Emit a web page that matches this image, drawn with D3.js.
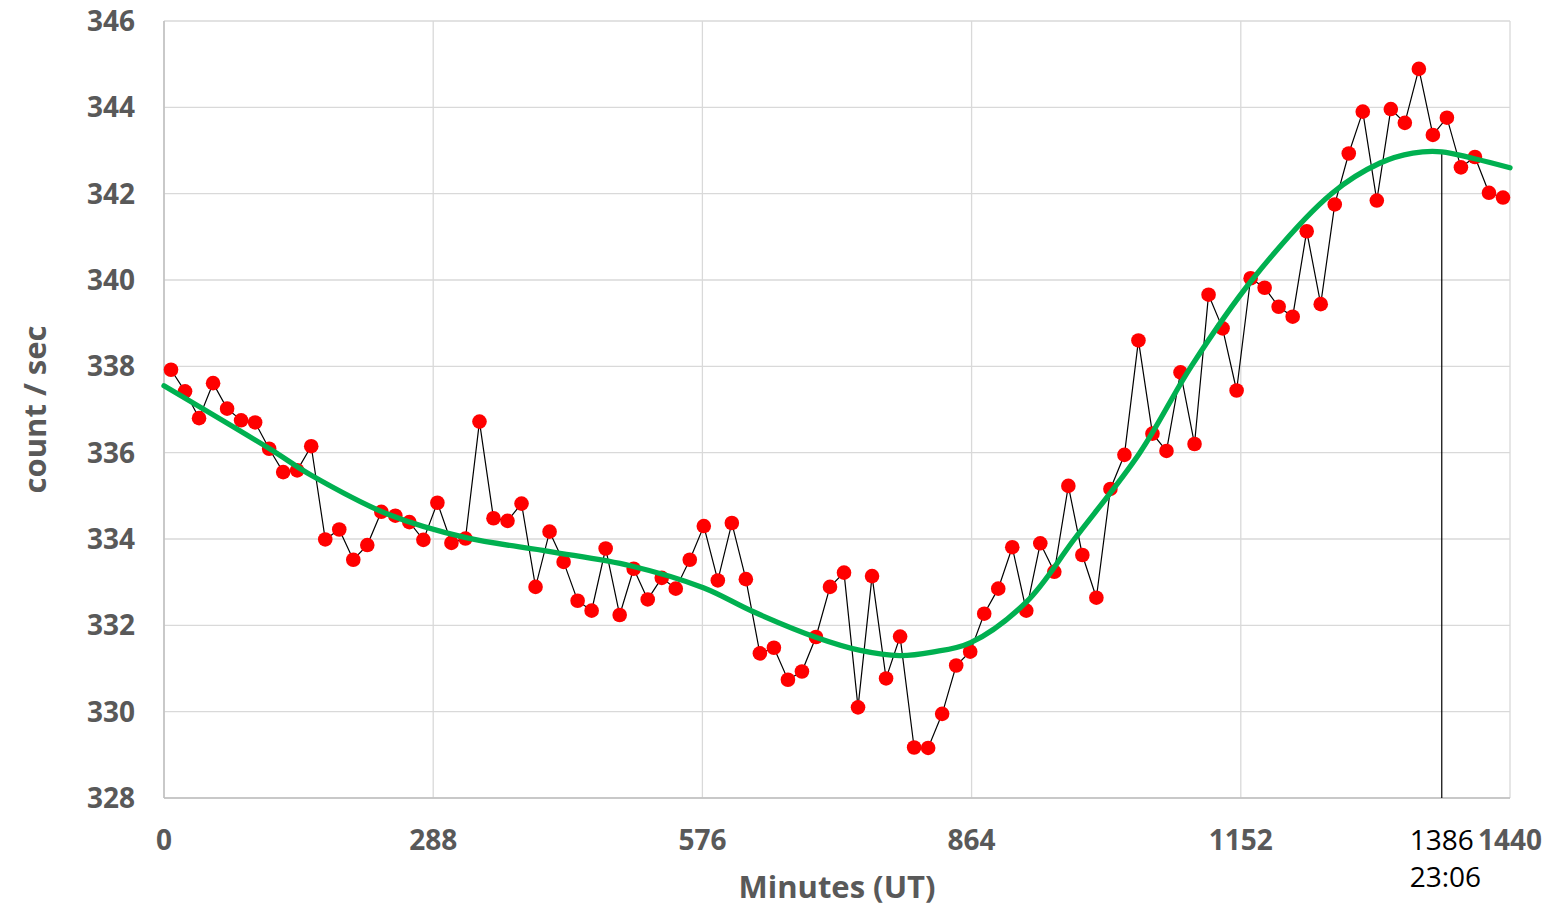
<!DOCTYPE html>
<html>
<head>
<meta charset="utf-8">
<script src="https://cdn.jsdelivr.net/npm/d3@7/dist/d3.min.js"></script>
<style>
  body { margin: 0; background: #fff; }
  text { font-family: "Open Sans", "Liberation Sans", Arial, sans-serif; }
</style>
</head>
<body>
<div id="chart"></div>
<script>
// count rate, one sample every 15 minutes (centred on 7.5, 22.5, ...)
const sampleMinutes = d3.range(96).map(i => 7.5 + i * 15);
const countRate = [
  337.92, 337.42, 336.80, 337.61, 337.02, 336.75, 336.70, 336.09, 335.55, 335.59,
  336.15, 333.99, 334.22, 333.52, 333.86, 334.63, 334.54, 334.39, 333.98, 334.84,
  333.91, 334.01, 336.72, 334.48, 334.42, 334.82, 332.89, 334.17, 333.47, 332.57,
  332.34, 333.78, 332.24, 333.31, 332.60, 333.10, 332.85, 333.52, 334.30, 333.04,
  334.37, 333.07, 331.35, 331.48, 330.74, 330.93, 331.73, 332.89, 333.22, 330.10,
  333.14, 330.77, 331.74, 329.17, 329.16, 329.95, 331.07, 331.39, 332.27, 332.85,
  333.81, 332.34, 333.90, 333.24, 335.23, 333.63, 332.64, 335.16, 335.95, 338.60,
  336.44, 336.04, 337.86, 336.20, 339.66, 338.88, 337.44, 340.04, 339.82, 339.38,
  339.15, 341.13, 339.44, 341.75, 342.93, 343.90, 341.84, 343.96, 343.64, 344.89,
  343.36, 343.76, 342.61, 342.85, 342.02, 341.91
];

// trend curve
const trendMinutes = [0, 113, 158, 241, 323, 413, 499, 577, 630, 698, 745, 787, 822, 863,
  923, 974, 1044, 1099, 1164, 1249, 1301, 1336, 1367, 1400, 1440];
const trendValues = [337.55, 336.09, 335.47, 334.56, 334.03, 333.71, 333.38, 332.87, 332.32,
  331.72, 331.42, 331.30, 331.38, 331.60, 332.55, 334.00, 336.00, 338.00, 340.00,
  342.00, 342.71, 342.94, 342.97, 342.82, 342.60];

const xTicks = [0, 288, 576, 864, 1152, 1440];
const yTicks = [328, 330, 332, 334, 336, 338, 340, 342, 344, 346];
const markerMinute = 1367;          // where the marker is drawn
const markerLabels = ['1386', '23:06'];

const margin = { top: 21, right: 36, bottom: 110, left: 164 };
const W = 1546, H = 908;
const width = W - margin.left - margin.right;
const height = H - margin.top - margin.bottom;

const svg = d3.select('#chart').append('svg')
  .attr('width', W)
  .attr('height', H);
const g = svg.append('g')
  .attr('transform', `translate(${margin.left},${margin.top})`);

const x = d3.scaleLinear().domain([0, 1440]).range([0, width]);
const y = d3.scaleLinear().domain([328, 346]).range([height, 0]);

// grid
g.append('g')
  .selectAll('line')
  .data(yTicks)
  .enter().append('line')
  .attr('x1', 0).attr('x2', width)
  .attr('y1', d => y(d)).attr('y2', d => y(d))
  .attr('stroke', '#d9d9d9').attr('stroke-width', 1.3);
g.append('g')
  .selectAll('line')
  .data(xTicks)
  .enter().append('line')
  .attr('y1', 0).attr('y2', height)
  .attr('x1', d => x(d)).attr('x2', d => x(d))
  .attr('stroke', '#d9d9d9').attr('stroke-width', 1.3);

// left and bottom axis lines
g.append('line').attr('x1', 0).attr('x2', 0).attr('y1', 0).attr('y2', height)
  .attr('stroke', '#bfbfbf').attr('stroke-width', 1.5);
g.append('line').attr('x1', 0).attr('x2', width).attr('y1', height).attr('y2', height)
  .attr('stroke', '#bfbfbf').attr('stroke-width', 1.5);

// tick labels
g.append('g')
  .selectAll('text')
  .data(yTicks)
  .enter().append('text')
  .attr('x', -29)
  .attr('y', d => y(d) + 10)
  .attr('text-anchor', 'end')
  .attr('font-size', 28)
  .attr('font-weight', 'bold')
  .attr('fill', '#595959')
  .text(d => d);

g.append('g')
  .selectAll('text')
  .data(xTicks)
  .enter().append('text')
  .attr('x', d => x(d))
  .attr('y', height + 52)
  .attr('text-anchor', 'middle')
  .attr('font-size', 28)
  .attr('font-weight', 'bold')
  .attr('fill', '#595959')
  .text(d => d);

// axis titles
svg.append('text')
  .attr('transform', `translate(46,${margin.top + height / 2}) rotate(-90)`)
  .attr('text-anchor', 'middle')
  .attr('font-size', 31)
  .attr('font-weight', 'bold')
  .attr('fill', '#595959')
  .text('count / sec');

svg.append('text')
  .attr('x', margin.left + width / 2)
  .attr('y', H - 10)
  .attr('text-anchor', 'middle')
  .attr('font-size', 31)
  .attr('font-weight', 'bold')
  .attr('fill', '#595959')
  .text('Minutes (UT)');

// marker line and its label
const markerValue = trendValues[trendMinutes.indexOf(markerMinute)];
g.append('line')
  .attr('x1', x(markerMinute)).attr('x2', x(markerMinute))
  .attr('y1', y(markerValue)).attr('y2', height)
  .attr('stroke', '#000').attr('stroke-width', 1.2);

const lab1 = g.append('text')
  .attr('x', x(markerMinute))
  .attr('y', height + 52)
  .attr('text-anchor', 'middle')
  .attr('font-size', 28)
  .attr('fill', '#000')
  .text(markerLabels[0]);
const left = lab1.node().getBBox().x;
g.append('text')
  .attr('x', left)
  .attr('y', height + 89)
  .attr('font-size', 28)
  .attr('fill', '#000')
  .text(markerLabels[1]);

// data
const pts = sampleMinutes.map((m, i) => ({ m: m, v: countRate[i] }));

g.append('path')
  .datum(pts)
  .attr('fill', 'none')
  .attr('stroke', '#000')
  .attr('stroke-width', 1.2)
  .attr('d', d3.line().x(d => x(d.m)).y(d => y(d.v)));

g.selectAll('circle.pt')
  .data(pts)
  .enter().append('circle')
  .attr('class', 'pt')
  .attr('cx', d => x(d.m))
  .attr('cy', d => y(d.v))
  .attr('r', 7.3)
  .attr('fill', '#ff0000');

// trend
const trend = trendMinutes.map((m, i) => ({ m: m, v: trendValues[i] }));
g.append('path')
  .datum(trend)
  .attr('fill', 'none')
  .attr('stroke', '#00b050')
  .attr('stroke-width', 5.3)
  .attr('stroke-linecap', 'round')
  .attr('d', d3.line().curve(d3.curveCatmullRom.alpha(0.5)).x(d => x(d.m)).y(d => y(d.v)));
</script>
</body>
</html>
